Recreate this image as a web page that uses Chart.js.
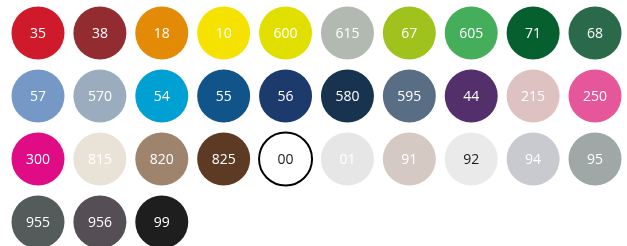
<!DOCTYPE html>
<html>
<head>
<meta charset="utf-8">
<script src="https://cdn.jsdelivr.net/npm/chart.js@4/dist/chart.umd.min.js"></script>
<style>
  html, body { margin: 0; padding: 0; background: #fff; }
  canvas { display: block; }
</style>
</head>
<body>
<canvas id="myChart" width="627" height="246"></canvas>
<script>
const ctx = document.querySelector('#myChart');

const codes = ['35', '38', '18', '10', '600', '615', '67', '605', '71', '68',
  '57', '570', '54', '55', '56', '580', '595', '44', '215', '250',
  '300', '815', '820', '825', '00', '01', '91', '92', '94', '95',
  '955', '956', '99']
const swatches = ['#ce1a2b', '#922c30', '#e38a06', '#f6e200', '#e0df00', '#b1b9b0', '#9fc31c', '#44ae5b', '#065f2f', '#2a6a4b',
  '#7698c6', '#9bacbf', '#00a0d2', '#10548a', '#1d3a6d', '#18334f', '#596d85', '#53306c', '#dec1c1', '#e6569a',
  '#e00c85', '#e8e3d6', '#9e846c', '#5d3a24', '#ffffff', '#e6e6e6', '#d4cac3', '#eaeaea', '#c9cacf', '#a0a8a7',
  '#535c5b', '#554e55', '#1e1e1e']
const darkText = ['00', '92']
const perRow = 10

const points = codes.map((c, i) => ({ x: i % perRow, y: Math.floor(i / perRow) }))

const labelPlugin = {
  id: 'swatchLabels',
  afterDatasetsDraw(chart) {
    const c = chart.ctx
    const meta = chart.getDatasetMeta(0)
    c.save()
    c.font = '14px "Open Sans"'
    c.textAlign = 'center'
    c.textBaseline = 'middle'
    meta.data.forEach((pt, i) => {
      c.fillStyle = darkText.includes(codes[i]) ? '#1a1a1a' : '#ffffff'
      c.fillText(codes[i], pt.x, pt.y + 1)
    })
    c.restore()
  }
}

const data = {
  datasets: [{
    data: points,
    clip: false,
    pointRadius: 26.5,
    pointHoverRadius: 26.5,
    backgroundColor: swatches,
    borderColor: codes.map((c, i) => c === '00' ? '#000000' : swatches[i]),
    borderWidth: codes.map(c => c === '00' ? 2 : 0),
    hoverBorderWidth: codes.map(c => c === '00' ? 2 : 0),
  }]
}

const config = {
  type: 'scatter',
  data: data,
  options: {
    responsive: false,
    animation: false,
    layout: { padding: 0, autoPadding: false },
    plugins: {
      legend: { display: false },
      tooltip: { enabled: false }
    },
    scales: {
      x: { display: false, min: -0.614, max: 9.517 },
      y: { display: false, reverse: true, min: -0.524, max: 3.381 }
    }
  },
  plugins: [labelPlugin]
}

const myChart = new Chart(ctx, config)
</script>
</body>
</html>
